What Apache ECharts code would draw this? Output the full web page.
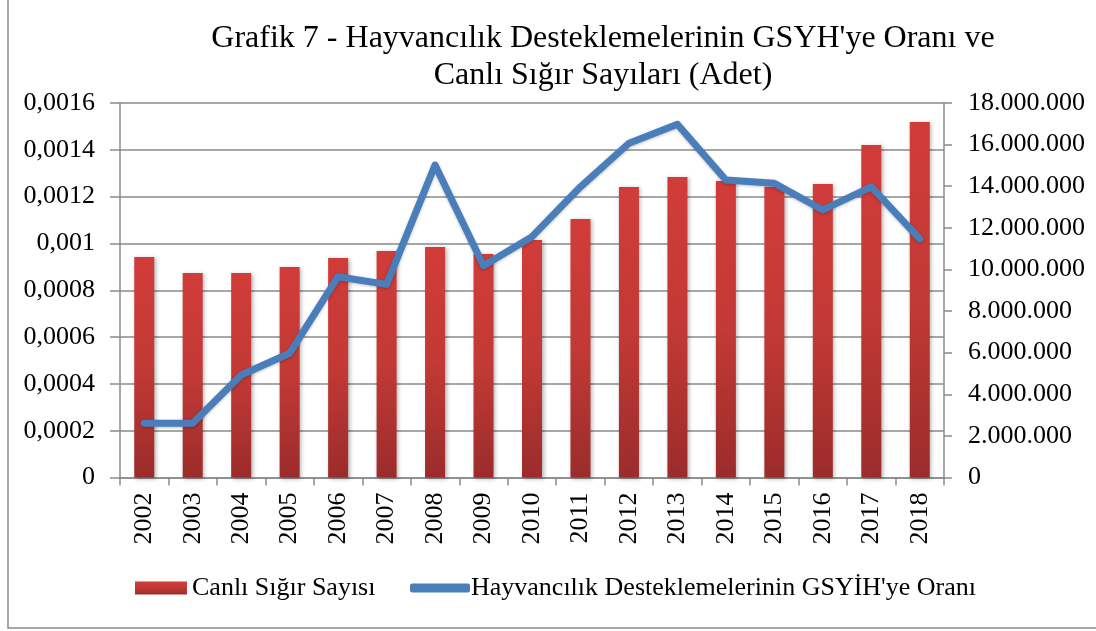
<!DOCTYPE html>
<html>
<head>
<meta charset="utf-8">
<script src="https://cdn.jsdelivr.net/npm/echarts@6/dist/echarts.min.js"></script>
<style>
html,body{margin:0;padding:0;background:#fff;}
#chart{width:1096px;height:631px;}
</style>
</head>
<body>
<div id="chart"></div>
<script>
const years = ['2002','2003','2004','2005','2006','2007','2008','2009','2010','2011','2012','2013','2014','2015','2016','2017','2018'];
const cattle = [10600000, 9830000, 9830000, 10120000, 10550000, 10890000, 11080000, 10740000, 11420000, 12420000, 13960000, 14440000, 14250000, 13980000, 14110000, 15980000, 17090000];
const ratio = [0.000232, 0.000232, 0.000438, 0.000531, 0.000858, 0.000825, 0.001335, 0.000905, 0.001029, 0.001242, 0.001428, 0.001509, 0.001271, 0.001257, 0.001143, 0.001242, 0.001019];
const barName = 'Canlı Sığır Sayısı';
const lineName = "Hayvancılık Desteklemelerinin GSYİH'ye Oranı";
const titleText = "Grafik 7 - Hayvancılık Desteklemelerinin GSYH'ye Oranı ve\nCanlı Sığır Sayıları (Adet)";

const FONT = '"Liberation Serif", "Times New Roman", serif';
const chart = echarts.init(document.getElementById('chart'));
const fmtLeft = v => v === 0 ? '0' : String(+v.toFixed(4)).replace('.', ',');
const fmtRight = v => String(Math.round(v)).replace(/\B(?=(\d{3})+(?!\d))/g, '.');
const gray = '#8a8a8a';

chart.setOption({
  animation: false,
  backgroundColor: '#fff',
  textStyle: {fontFamily: FONT, color: '#000'},
  title: {
    text: titleText,
    left: 598, top: 15, textAlign: 'center',
    textStyle: {fontFamily: FONT, fontSize: 32, fontWeight: 'normal', color: '#000', lineHeight: 37}
  },
  graphic: [{
    type: 'rect', shape: {x: 8, y: -5, width: 1100, height: 633},
    style: {fill: 'none', stroke: '#8c8c8c', lineWidth: 1.5}, silent: true, z: -10
  }],
  legend: [{
    data: [{name: barName, icon: 'rect'}],
    left: 130, top: 570, itemWidth: 52, itemHeight: 13, itemGap: 0,
    textStyle: {fontFamily: FONT, fontSize: 26, color: '#000'}
  }, {
    data: [{name: lineName, icon: 'roundRect'}],
    left: 405, top: 570, itemWidth: 60, itemHeight: 9, itemGap: 0,
    textStyle: {fontFamily: FONT, fontSize: 26, color: '#000', padding: [0, 0, 0, -4]}
  }],
  grid: {left: 120, right: 152, top: 103, bottom: 153.5, containLabel: false},
  xAxis: {
    type: 'category', data: years, boundaryGap: true,
    axisLine: {lineStyle: {color: gray, width: 1.5}},
    axisTick: {show: true, length: 8, lineStyle: {color: gray, width: 1.5}},
    axisLabel: {rotate: 90, fontFamily: FONT, fontSize: 26, color: '#000', margin: 15}
  },
  yAxis: [{
    type: 'value', min: 0, max: 0.0016, interval: 0.0002, position: 'left',
    axisLine: {show: true, lineStyle: {color: gray, width: 1.5}},
    axisTick: {show: true, inside: false, length: 10, lineStyle: {color: gray, width: 1.5}},
    splitLine: {show: true, lineStyle: {color: gray, width: 1.5}},
    axisLabel: {formatter: fmtLeft, fontFamily: FONT, fontSize: 26, color: '#000', margin: 25}
  }, {
    type: 'value', min: 0, max: 18000000, interval: 2000000, position: 'right',
    axisLine: {show: true, lineStyle: {color: gray, width: 1.5}},
    axisTick: {show: true, length: 8, lineStyle: {color: gray, width: 1.5}},
    splitLine: {show: false},
    axisLabel: {formatter: fmtRight, fontFamily: FONT, fontSize: 26, color: '#000', margin: 24}
  }],
  series: [{
    name: barName, type: 'bar', yAxisIndex: 1, data: cattle, barWidth: 20,
    itemStyle: {
      color: new echarts.graphic.LinearGradient(0, 0, 0, 1, [
        {offset: 0, color: '#d13c39'}, {offset: 0.5, color: '#c23935'}, {offset: 1, color: '#9b2c2b'}
      ]),
      shadowBlur: 4, shadowColor: 'rgba(0,0,0,0.3)', shadowOffsetX: 1.5, shadowOffsetY: 1
    },
    z: 2
  }, {
    name: lineName, type: 'line', yAxisIndex: 0, data: ratio,
    showSymbol: false, symbol: 'none',
    lineStyle: {color: '#4a7ebb', width: 7, cap: 'round', join: 'round',
      shadowBlur: 3, shadowColor: 'rgba(0,0,0,0.25)', shadowOffsetY: 1},
    itemStyle: {color: '#4a7ebb'},
    z: 3
  }]
});
</script>
</body>
</html>
